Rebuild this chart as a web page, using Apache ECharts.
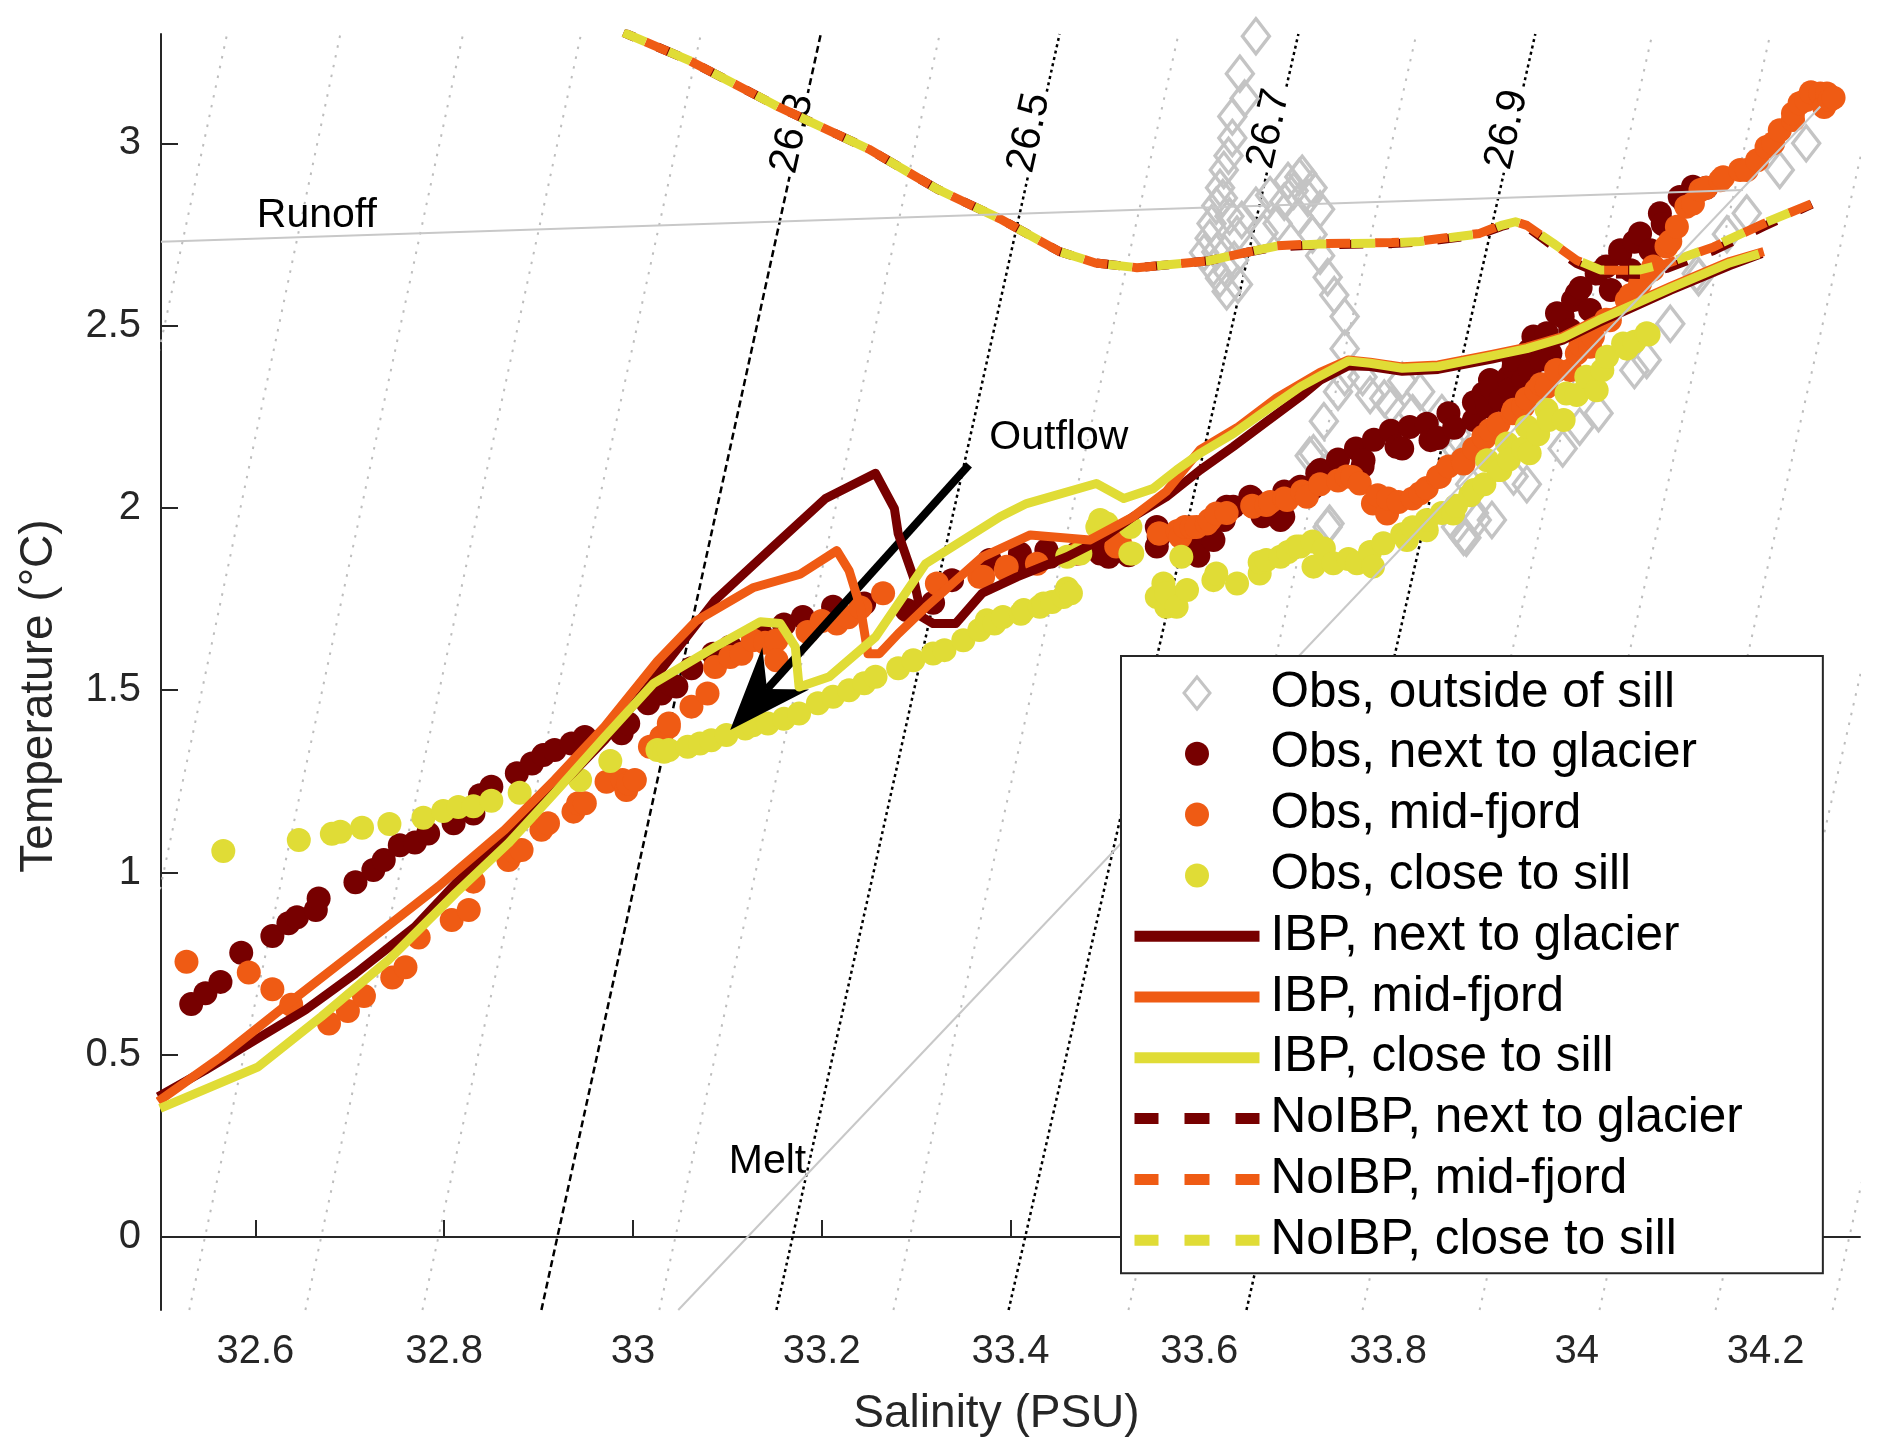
<!DOCTYPE html>
<html><head><meta charset="utf-8">
<script src="https://cdn.jsdelivr.net/npm/echarts/dist/echarts.min.js"></script>
<style>html,body{margin:0;padding:0;background:#fff}#c{width:1878px;height:1453px}</style>
</head><body><div id="c"></div>
<script>
// ---------- data ----------
const xTicks = [32.6, 32.8, 33, 33.2, 33.4, 33.6, 33.8, 34, 34.2];
const yTicks = [0, 0.5, 1, 1.5, 2, 2.5, 3];

// isopycnals (sigma-theta): salinity where each contour crosses T=-0.2 and T=3.3
const sigmaLevels = [25.8,25.9,26.0,26.1,26.2,26.3,26.4,26.5,26.6,26.7,26.8,26.9,27.0,27.1,27.2,27.3,27.4];
const sigmaSBottom = [32.280,32.405,32.530,32.653,32.777,32.903,33.028,33.152,33.276,33.398,33.525,33.650,33.773,33.897,34.024,34.147,34.271];
const sigmaSTop = [32.570,32.690,32.820,32.945,33.072,33.199,33.325,33.452,33.578,33.705,33.830,33.956,34.080,34.205,34.330,34.455,34.580];
const contourT = [-0.2, 3.3];
const labeledLevels = [26.3, 26.5, 26.7, 26.9];
const contourLabelS = [33.169, 33.420, 33.674, 33.926];
const contourLabelT = [3.027, 3.029, 3.040, 3.038];

const runoffS = [32.5, 34.176], runoffT = [2.730, 2.872];
const meltS = [33.048, 34.258], meltT = [-0.2, 3.101];

const annotationText = ['Runoff', 'Outflow', 'Melt'];
const annotationS = [32.601, 33.377, 33.101];
const annotationT = [2.802, 2.193, 0.207];

const arrowTail = [33.356, 2.118];
const arrowTip = [33.103, 1.391];

const obsOutside = [[33.660,3.294],[33.643,3.191],[33.648,3.123],[33.635,3.074],[33.635,3.015],[33.631,2.966],[33.626,2.927],[33.622,2.878],[33.618,2.829],[33.613,2.780],[33.611,2.740],[33.618,2.702],[33.629,2.652],[33.641,2.613],[33.629,2.594],[33.605,2.700],[33.615,2.660],[33.622,2.630],[33.637,2.680],[33.640,2.750],[33.632,2.800],[33.625,2.850],[33.645,2.790],[33.660,2.829],[33.675,2.858],[33.694,2.897],[33.709,2.917],[33.720,2.878],[33.728,2.819],[33.706,2.908],[33.668,2.755],[33.690,2.840],[33.700,2.870],[33.715,2.850],[33.705,2.800],[33.683,2.780],[33.720,2.750],[33.728,2.692],[33.736,2.633],[33.743,2.584],[33.754,2.525],[33.754,2.437],[33.754,2.359],[33.747,2.319],[33.732,2.238],[33.721,2.150],[33.717,2.143],[33.738,1.957],[33.736,1.948],[33.773,2.359],[33.781,2.310],[33.796,2.300],[33.815,2.349],[33.834,2.319],[33.803,2.280],[33.826,2.260],[33.857,2.260],[33.860,2.212],[33.872,2.202],[33.872,2.163],[33.879,2.133],[33.887,2.065],[33.891,1.986],[33.894,1.967],[33.872,1.948],[33.883,1.918],[33.880,1.921],[33.910,1.967],[33.933,2.086],[33.947,2.065],[33.985,2.163],[34.003,2.223],[34.023,2.260],[34.061,2.378],[34.074,2.406],[34.099,2.505],[34.127,2.643],[34.129,2.633],[34.159,2.751],[34.180,2.808],[34.215,2.927],[34.243,3.000]];

const obsGlacier = [[32.532,0.639],[32.547,0.669],[32.563,0.700],[32.585,0.780],[32.618,0.826],[32.635,0.861],[32.644,0.877],[32.664,0.897],[32.667,0.929],[32.706,0.973],[32.725,1.007],[32.736,1.034],[32.753,1.075],[32.769,1.082],[32.783,1.107],[32.810,1.135],[32.831,1.162],[32.838,1.212],[32.850,1.235],[32.877,1.272],[32.893,1.299],[32.905,1.322],[32.917,1.336],[32.935,1.354],[32.949,1.372],[32.988,1.382],[32.995,1.409],[33.016,1.464],[33.030,1.491],[33.041,1.514],[33.046,1.510],[33.062,1.560],[33.085,1.600],[33.103,1.619],[33.135,1.656],[33.160,1.680],[33.180,1.701],[33.212,1.729],[33.245,1.738],[33.290,1.720],[33.318,1.740],[33.338,1.802],[33.370,1.820],[33.378,1.857],[33.410,1.875],[33.411,1.848],[33.438,1.884],[33.442,1.866],[33.470,1.875],[33.495,1.875],[33.502,1.884],[33.504,1.866],[33.525,1.870],[33.555,1.894],[33.555,1.948],[33.557,1.921],[33.587,1.894],[33.597,1.884],[33.599,1.869],[33.608,1.930],[33.615,1.912],[33.626,1.967],[33.629,2.003],[33.636,2.003],[33.654,2.031],[33.656,2.026],[33.667,1.977],[33.686,1.967],[33.689,1.976],[33.690,2.045],[33.703,2.049],[33.707,2.058],[33.720,2.055],[33.725,2.095],[33.728,2.104],[33.738,2.095],[33.747,2.133],[33.766,2.163],[33.773,2.114],[33.774,2.131],[33.785,2.187],[33.803,2.212],[33.809,2.168],[33.815,2.163],[33.823,2.222],[33.841,2.231],[33.845,2.186],[33.853,2.192],[33.864,2.260],[33.870,2.220],[33.891,2.241],[33.891,2.290],[33.901,2.314],[33.905,2.278],[33.908,2.351],[33.910,2.329],[33.919,2.296],[33.928,2.359],[33.929,2.324],[33.933,2.387],[33.933,2.406],[33.943,2.351],[33.950,2.378],[33.950,2.433],[33.954,2.470],[33.962,2.407],[33.968,2.479],[33.972,2.424],[33.979,2.534],[33.985,2.525],[33.993,2.488],[33.996,2.570],[34.000,2.588],[34.004,2.603],[34.014,2.543],[34.021,2.643],[34.031,2.662],[34.036,2.598],[34.046,2.698],[34.046,2.707],[34.057,2.652],[34.061,2.730],[34.067,2.753],[34.078,2.707],[34.088,2.808],[34.091,2.779],[34.099,2.762],[34.109,2.853],[34.114,2.839],[34.123,2.881],[34.137,2.878]];

const obsMid = [[32.527,0.755],[32.593,0.726],[32.618,0.680],[32.638,0.637],[32.678,0.586],[32.698,0.620],[32.715,0.661],[32.745,0.712],[32.759,0.740],[32.773,0.822],[32.808,0.870],[32.826,0.897],[32.831,0.975],[32.868,1.034],[32.875,1.057],[32.882,1.062],[32.903,1.117],[32.910,1.135],[32.937,1.167],[32.942,1.190],[32.949,1.190],[32.972,1.249],[32.989,1.254],[32.993,1.226],[32.995,1.244],[33.002,1.254],[33.018,1.345],[33.030,1.372],[33.038,1.400],[33.038,1.409],[33.062,1.455],[33.079,1.491],[33.087,1.564],[33.103,1.591],[33.115,1.600],[33.127,1.637],[33.140,1.630],[33.152,1.637],[33.152,1.582],[33.185,1.660],[33.200,1.690],[33.216,1.683],[33.228,1.700],[33.241,1.727],[33.265,1.766],[33.322,1.793],[33.367,1.811],[33.371,1.811],[33.395,1.830],[33.396,1.839],[33.428,1.847],[33.472,1.875],[33.512,1.894],[33.516,1.903],[33.557,1.930],[33.558,1.930],[33.577,1.937],[33.580,1.921],[33.585,1.948],[33.592,1.947],[33.597,1.948],[33.608,1.957],[33.611,1.967],[33.618,1.985],[33.629,1.986],[33.656,2.006],[33.657,2.003],[33.671,2.008],[33.675,2.016],[33.690,2.026],[33.693,2.022],[33.709,2.045],[33.714,2.031],[33.728,2.065],[33.747,2.075],[33.756,2.086],[33.762,2.085],[33.770,2.067],[33.784,2.012],[33.789,2.035],[33.799,1.985],[33.800,2.026],[33.811,2.016],[33.826,2.026],[33.834,2.040],[33.841,2.055],[33.853,2.085],[33.855,2.086],[33.864,2.114],[33.879,2.133],[33.880,2.122],[33.891,2.163],[33.901,2.196],[33.902,2.192],[33.908,2.214],[33.917,2.231],[33.932,2.260],[33.933,2.269],[33.943,2.278],[33.947,2.300],[33.957,2.323],[33.962,2.339],[33.968,2.332],[33.978,2.378],[33.979,2.378],[33.993,2.378],[34.000,2.424],[34.004,2.447],[34.014,2.442],[34.017,2.470],[34.031,2.516],[34.035,2.515],[34.053,2.570],[34.057,2.584],[34.067,2.616],[34.080,2.653],[34.081,2.662],[34.095,2.717],[34.099,2.731],[34.106,2.771],[34.116,2.826],[34.123,2.835],[34.131,2.872],[34.137,2.878],[34.152,2.899],[34.155,2.907],[34.173,2.927],[34.180,2.927],[34.191,2.954],[34.201,2.990],[34.208,3.000],[34.215,3.036],[34.229,3.064],[34.229,3.082],[34.236,3.110],[34.243,3.119],[34.248,3.140],[34.258,3.137],[34.262,3.100],[34.265,3.137],[34.268,3.119],[34.272,3.125]];

const obsSill = [[32.566,1.059],[32.646,1.089],[32.681,1.106],[32.690,1.112],[32.713,1.123],[32.742,1.133],[32.778,1.150],[32.799,1.169],[32.815,1.180],[32.831,1.182],[32.850,1.197],[32.880,1.219],[32.944,1.254],[32.976,1.306],[33.026,1.336],[33.033,1.331],[33.038,1.336],[33.058,1.345],[33.071,1.354],[33.083,1.363],[33.099,1.377],[33.119,1.395],[33.127,1.404],[33.143,1.409],[33.160,1.422],[33.176,1.436],[33.196,1.464],[33.212,1.482],[33.229,1.500],[33.245,1.519],[33.257,1.537],[33.281,1.560],[33.297,1.582],[33.318,1.601],[33.330,1.610],[33.350,1.637],[33.367,1.665],[33.375,1.692],[33.383,1.683],[33.392,1.701],[33.411,1.710],[33.414,1.720],[33.431,1.729],[33.435,1.738],[33.444,1.742],[33.456,1.756],[33.460,1.779],[33.464,1.766],[33.460,1.866],[33.474,1.875],[33.492,1.948],[33.495,1.967],[33.502,1.957],[33.527,1.948],[33.527,1.875],[33.529,1.875],[33.555,1.756],[33.562,1.793],[33.565,1.729],[33.565,1.766],[33.576,1.729],[33.581,1.866],[33.587,1.775],[33.615,1.802],[33.618,1.820],[33.640,1.793],[33.664,1.820],[33.664,1.851],[33.671,1.857],[33.686,1.866],[33.694,1.879],[33.703,1.894],[33.707,1.894],[33.720,1.908],[33.721,1.839],[33.732,1.889],[33.742,1.848],[33.758,1.860],[33.767,1.848],[33.781,1.879],[33.784,1.839],[33.795,1.903],[33.815,1.928],[33.820,1.912],[33.826,1.947],[33.841,1.939],[33.841,1.967],[33.857,1.986],[33.869,1.985],[33.872,2.006],[33.887,2.035],[33.891,2.049],[33.902,2.065],[33.905,2.131],[33.917,2.104],[33.919,2.104],[33.926,2.177],[33.928,2.133],[33.943,2.163],[33.947,2.223],[33.950,2.150],[33.959,2.202],[33.968,2.269],[33.970,2.241],[33.986,2.241],[33.989,2.314],[34.000,2.310],[34.010,2.360],[34.021,2.323],[34.027,2.378],[34.032,2.415],[34.049,2.451],[34.053,2.437],[34.061,2.456],[34.074,2.479],[34.076,2.476]];

const ibpGlacier = [[32.497,0.385],[32.547,0.458],[32.600,0.541],[32.653,0.623],[32.706,0.723],[32.769,0.851],[32.812,0.970],[32.864,1.098],[32.917,1.222],[32.970,1.363],[33.016,1.510],[33.087,1.747],[33.148,1.893],[33.204,2.026],[33.257,2.095],[33.277,1.998],[33.281,1.930],[33.297,1.811],[33.306,1.701],[33.318,1.683],[33.342,1.683],[33.370,1.766],[33.407,1.811],[33.460,1.866],[33.495,1.912],[33.530,1.976],[33.565,2.030],[33.601,2.104],[33.636,2.168],[33.671,2.236],[33.707,2.305],[33.728,2.350],[33.758,2.390],[33.781,2.388],[33.815,2.375],[33.853,2.380],[33.910,2.408],[33.947,2.430],[33.985,2.460],[34.023,2.508],[34.061,2.552],[34.099,2.597],[34.162,2.665],[34.196,2.698]];
const ibpMid = [[32.497,0.372],[32.564,0.495],[32.635,0.641],[32.706,0.784],[32.794,0.962],[32.864,1.117],[32.917,1.254],[32.970,1.400],[33.026,1.580],[33.067,1.690],[33.127,1.781],[33.177,1.818],[33.216,1.883],[33.229,1.828],[33.241,1.727],[33.249,1.600],[33.261,1.600],[33.281,1.655],[33.310,1.727],[33.370,1.865],[33.421,1.926],[33.484,1.912],[33.530,1.976],[33.565,2.045],[33.601,2.160],[33.640,2.220],[33.682,2.302],[33.728,2.372],[33.758,2.406],[33.781,2.400],[33.815,2.387],[33.853,2.392],[33.910,2.421],[33.947,2.441],[33.985,2.470],[34.023,2.519],[34.061,2.563],[34.099,2.607],[34.162,2.676],[34.198,2.703]];
const ibpSill = [[32.499,0.353],[32.603,0.467],[32.670,0.605],[32.741,0.760],[32.812,0.943],[32.868,1.080],[32.917,1.218],[32.970,1.372],[33.022,1.519],[33.087,1.619],[33.135,1.688],[33.156,1.683],[33.172,1.619],[33.176,1.509],[33.208,1.537],[33.257,1.646],[33.310,1.847],[33.389,1.976],[33.417,2.012],[33.491,2.067],[33.520,2.026],[33.551,2.053],[33.576,2.104],[33.601,2.150],[33.636,2.204],[33.671,2.268],[33.707,2.332],[33.728,2.362],[33.758,2.403],[33.781,2.397],[33.815,2.383],[33.853,2.388],[33.910,2.417],[33.947,2.437],[33.985,2.466],[34.023,2.515],[34.061,2.559],[34.099,2.603],[34.162,2.672],[34.193,2.697]];

const noibpGlacier = [[32.990,3.304],[33.060,3.227],[33.155,3.099],[33.250,2.984],[33.322,2.875],[33.389,2.793],[33.452,2.703],[33.490,2.672],[33.534,2.659],[33.575,2.669],[33.610,2.678],[33.652,2.702],[33.682,2.716],[33.728,2.722],[33.804,2.725],[33.834,2.729],[33.897,2.750],[33.920,2.772],[33.935,2.782],[33.947,2.772],[33.975,2.718],[34.000,2.670],[34.025,2.643],[34.067,2.640],[34.095,2.657],[34.145,2.706],[34.198,2.772],[34.249,2.833]];
const noibpMid = [[32.990,3.304],[33.060,3.227],[33.155,3.099],[33.250,2.984],[33.322,2.875],[33.389,2.793],[33.452,2.703],[33.490,2.672],[33.534,2.659],[33.575,2.669],[33.610,2.678],[33.652,2.702],[33.682,2.719],[33.728,2.725],[33.804,2.728],[33.834,2.732],[33.897,2.753],[33.920,2.776],[33.935,2.785],[33.947,2.775],[33.975,2.725],[34.000,2.679],[34.025,2.652],[34.067,2.652],[34.095,2.670],[34.145,2.716],[34.198,2.780],[34.249,2.835]];
const noibpSill = [[32.990,3.304],[33.060,3.227],[33.155,3.099],[33.250,2.984],[33.322,2.875],[33.389,2.793],[33.452,2.703],[33.490,2.672],[33.534,2.659],[33.575,2.669],[33.610,2.678],[33.652,2.702],[33.682,2.718],[33.728,2.724],[33.804,2.727],[33.834,2.731],[33.897,2.752],[33.920,2.775],[33.935,2.785],[33.947,2.775],[33.975,2.726],[34.000,2.680],[34.025,2.653],[34.067,2.653],[34.095,2.671],[34.145,2.717],[34.198,2.781],[34.249,2.835]];

const seriesNames = ['Obs, outside of sill','Obs, next to glacier','Obs, mid-fjord','Obs, close to sill','IBP, next to glacier','IBP, mid-fjord','IBP, close to sill','NoIBP, next to glacier','NoIBP, mid-fjord','NoIBP, close to sill'];

// ---------- styling ----------
const FONT = "'Liberation Sans', Arial, Helvetica, sans-serif";
const C_RED = '#770000', C_ORG = '#EF5B14', C_YEL = '#E0DC36', C_GRAY = '#C4C4C4', AX = '#262626';
const CLEAR = 'rgba(0,0,0,0)';

const series = [];
// background isopycnals
sigmaLevels.forEach(function (lev, i) {
  if (labeledLevels.indexOf(lev) >= 0) return;
  series.push({type:'line', silent:true, z:1, symbol:'none',
    data:[[sigmaSBottom[i], contourT[0]], [sigmaSTop[i], contourT[1]]],
    lineStyle:{color:'#BDBDBD', width:2, type:[2.5, 7.5]}});
});
labeledLevels.forEach(function (lev, k) {
  const i = sigmaLevels.indexOf(lev);
  series.push({type:'line', silent:true, z:1, symbol:'none',
    data:[[sigmaSBottom[i], contourT[0]], [sigmaSTop[i], contourT[1]]],
    lineStyle:{color:'#000', width:2.5, type: k === 0 ? [7, 4] : [3, 3.5]}});
});
series.push({type:'scatter', silent:true, z:1, symbol:'circle', symbolSize:1,
  itemStyle:{color:CLEAR, opacity:1},
  data: contourLabelS.map(function (s, k) { return {value:[s, contourLabelT[k]], name:String(labeledLevels[k])}; }),
  label:{show:true, position:'inside', rotate:77.5, formatter:'{b}', fontSize:41, fontFamily:FONT, color:'#000',
    opacity:1, backgroundColor:'#fff', padding:[0,3]}});

// observations
series.push({name:seriesNames[0], type:'scatter', symbol:'diamond', symbolSize:[27,35], data:obsOutside,
  itemStyle:{color:CLEAR, borderColor:C_GRAY, borderWidth:3.4, opacity:1}});
series.push({name:seriesNames[1], type:'scatter', symbol:'circle', symbolSize:24, data:obsGlacier, itemStyle:{color:C_RED, opacity:1}});
series.push({name:seriesNames[2], type:'scatter', symbol:'circle', symbolSize:24, data:obsMid, itemStyle:{color:C_ORG, opacity:1}});
series.push({name:seriesNames[3], type:'scatter', symbol:'circle', symbolSize:24, data:obsSill, itemStyle:{color:C_YEL, opacity:1}});
// IBP model
[[ibpGlacier, C_RED, 4], [ibpMid, C_ORG, 5], [ibpSill, C_YEL, 6]].forEach(function (d) {
  series.push({name:seriesNames[d[2]], type:'line', symbol:'none', data:d[0], color:d[1],
    lineStyle:{color:d[1], width:9, join:'round'}});
});
// NoIBP model
[[noibpGlacier, C_RED, 7, 12], [noibpMid, C_ORG, 8, 25], [noibpSill, C_YEL, 9, 0]].forEach(function (d) {
  series.push({name:seriesNames[d[2]], type:'line', symbol:'none', data:d[0], color:d[1],
    lineStyle:{color:d[1], width:9, type:[24, 25], dashOffset:d[3], cap:'butt', join:'round'}});
});
// runoff and melt mixing lines
series.push({type:'line', silent:true, symbol:'none', data:[[runoffS[0], runoffT[0]], [runoffS[1], runoffT[1]]], lineStyle:{color:'#C8C8C8', width:2}});
series.push({type:'line', silent:true, symbol:'none', data:[[meltS[0], meltT[0]], [meltS[1], meltT[1]]], lineStyle:{color:'#C8C8C8', width:2}});
// text annotations
series.push({type:'scatter', silent:true, z:3, symbol:'circle', symbolSize:1, itemStyle:{color:CLEAR, opacity:1},
  data: annotationS.map(function (s, k) { return {value:[s, annotationT[k]], name:annotationText[k]}; }),
  label:{show:true, position:'right', distance:0, formatter:'{b}', fontSize:41, fontFamily:FONT, color:'#000', opacity:1}});
// outflow arrow
series.push({type:'custom', silent:true, z:3, data:[[arrowTail[0], arrowTail[1], arrowTip[0], arrowTip[1]]],
  renderItem: function (params, api) {
    const a = api.coord([api.value(0), api.value(1)]);
    const b = api.coord([api.value(2), api.value(3)]);
    const dx = b[0]-a[0], dy = b[1]-a[1], len = Math.sqrt(dx*dx+dy*dy);
    const ux = dx/len, uy = dy/len, nx = -uy, ny = ux;
    const L = 83, W = 31.5, N = 55;
    const bx = b[0]-ux*L, by = b[1]-uy*L, kx = b[0]-ux*N, ky = b[1]-uy*N;
    return {type:'group', children:[
      {type:'line', shape:{x1:a[0], y1:a[1], x2:kx, y2:ky}, style:{stroke:'#000', lineWidth:8}},
      {type:'polygon', shape:{points:[[b[0],b[1]],[bx+nx*W, by+ny*W],[kx,ky],[bx-nx*W, by-ny*W]]}, style:{fill:'#000'}}
    ]};
  }});

// legend icons (131 x 34 box)
const iconCircle = 'path://M0,0 M131,34 M74.5,17 A12,12 0 1 1 50.5,17 A12,12 0 1 1 74.5,17 Z';
const iconDiamond = 'path://M0,0 M131,34 M62.5,1 L75.5,17 L62.5,33 L49.5,17 Z';
const iconSolid = 'path://M0,0 M131,34 M0,11.5 L125,11.5 L125,22.5 L0,22.5 Z';
const iconDash = 'path://M0,0 M131,34 M0,11.5 L24,11.5 L24,22.5 L0,22.5 Z M50,11.5 L75,11.5 L75,22.5 L50,22.5 Z M101,11.5 L125,11.5 L125,22.5 L101,22.5 Z';
const legendData = seriesNames.map(function (n, i) {
  if (i === 0) return {name:n, icon:iconDiamond, itemStyle:{color:CLEAR, borderColor:C_GRAY, borderWidth:3, opacity:1}};
  if (i <= 3) return {name:n, icon:iconCircle, itemStyle:{opacity:1}};
  if (i <= 6) return {name:n, icon:iconSolid};
  return {name:n, icon:iconDash};
});

const chart = echarts.init(document.getElementById('c'), null, {renderer:'canvas'});
chart.setOption({
  animation:false,
  backgroundColor:'#fff',
  textStyle:{fontFamily:FONT},
  grid:{left:161, right:18, top:34, bottom:143, containLabel:false},
  xAxis:{type:'value', min:32.5, max:34.3,
    name:'Salinity (PSU)', nameLocation:'middle', nameGap:81,
    nameTextStyle:{fontSize:46, color:AX, fontFamily:FONT, padding:[0,28,0,0]},
    axisLine:{show:true, lineStyle:{color:AX, width:2}},
    axisTick:{show:true, inside:true, length:17, customValues:xTicks, lineStyle:{color:AX, width:2}},
    axisLabel:{customValues:xTicks, fontSize:40, color:AX, margin:22, fontFamily:FONT},
    splitLine:{show:false}},
  yAxis:{type:'value', min:-0.2, max:3.3,
    name:'Temperature (°C)', nameLocation:'middle', nameGap:99, nameRotate:90,
    nameTextStyle:{fontSize:46, color:AX, fontFamily:FONT, padding:[0,48,0,0]},
    axisLine:{show:true, lineStyle:{color:AX, width:2}},
    axisTick:{show:true, inside:true, length:17, customValues:yTicks, lineStyle:{color:AX, width:2}},
    axisLabel:{customValues:yTicks, fontSize:40, color:AX, margin:20, fontFamily:FONT},
    splitLine:{show:false}},
  legend:{orient:'vertical', left:1121, top:656, itemWidth:131, itemHeight:34, itemGap:10.8,
    padding:[12,80,8,12], backgroundColor:'#fff', borderColor:AX, borderWidth:2, borderRadius:0,
    selectedMode:false, itemStyle:{borderWidth:0},
    textStyle:{fontSize:49.5, lineHeight:49, color:'#000', fontFamily:FONT},
    data:legendData},
  series:series
});
</script></body></html>
